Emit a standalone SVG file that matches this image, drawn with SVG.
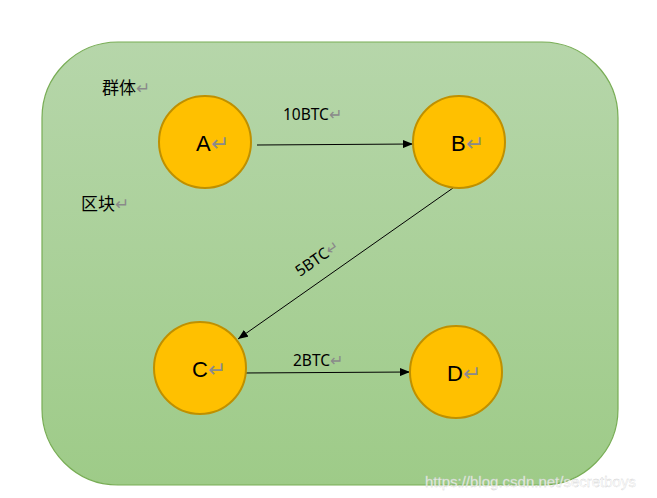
<svg xmlns="http://www.w3.org/2000/svg" width="657" height="498" viewBox="0 0 657 498">
<defs>
<linearGradient id="bg" x1="0" y1="0" x2="0" y2="1">
<stop offset="0" stop-color="#b6d6aa"/>
<stop offset="1" stop-color="#9ecb88"/>
</linearGradient>
<marker id="arr" markerWidth="10" markerHeight="8" refX="10" refY="4" orient="auto" markerUnits="userSpaceOnUse">
<path d="M0,0 L10,4 L0,8 Z" fill="#000"/>
</marker>
<style>
.node{fill:#ffc000;stroke:#bf9000;stroke-width:2}
.lbl{font-family:"Liberation Sans",Arial,sans-serif;font-size:22px;fill:#000}
.edge{font-family:"Noto Sans","Liberation Sans",sans-serif;font-size:15.5px;fill:#000}
.cjk{font-family:"Noto Sans CJK SC",sans-serif;font-size:17px;fill:#000}
.ret{fill:#8a8a8a}
.conn{stroke:#000;stroke-width:1;fill:none;marker-end:url(#arr)}
</style>
</defs>
<rect width="657" height="498" fill="#fff"/>
<rect id="block" x="42" y="42" width="576" height="443" rx="76" ry="76" fill="url(#bg)" stroke="#78ad55" stroke-width="1.2"/>
<text class="cjk" x="102" y="94">群体<tspan class="ret">↵</tspan></text>
<text class="cjk" x="81" y="210">区块<tspan class="ret">↵</tspan></text>
<g id="connectors">
<line class="conn" x1="257" y1="145" x2="413" y2="144"/>
<line class="conn" x1="453" y1="188" x2="238" y2="339"/>
<line class="conn" x1="243" y1="373" x2="410" y2="372"/>
<text class="edge" x="283" y="120">10BTC<tspan class="ret">↵</tspan></text>
<text class="edge" transform="translate(300,277) rotate(-35)">5BTC<tspan class="ret">↵</tspan></text>
<text class="edge" x="293" y="366">2BTC<tspan class="ret">↵</tspan></text>
</g>
<g id="A"><circle class="node" cx="205" cy="142" r="46"/><text class="lbl" x="196" y="151">A<tspan class="ret">↵</tspan></text></g>
<g id="B"><circle class="node" cx="459" cy="142" r="46"/><text class="lbl" x="451" y="151">B<tspan class="ret">↵</tspan></text></g>
<g id="C"><circle class="node" cx="200" cy="368" r="46"/><text class="lbl" x="192" y="377">C<tspan class="ret">↵</tspan></text></g>
<g id="D"><circle class="node" cx="456" cy="372" r="46"/><text class="lbl" x="447" y="381">D<tspan class="ret">↵</tspan></text></g>
<text x="425" y="487" font-family="'Liberation Sans',Arial,sans-serif" font-size="15" fill="#ffffff" fill-opacity="0.75" stroke="#cfcfcf" stroke-width="0.3">https://blog.csdn.net/secretboys</text>
</svg>
